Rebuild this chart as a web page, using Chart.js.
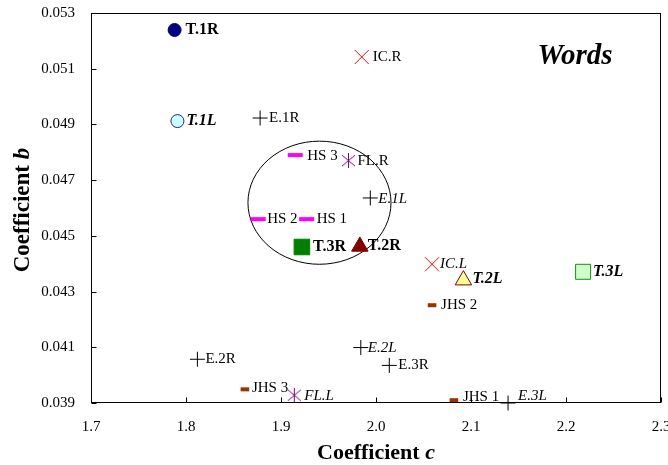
<!DOCTYPE html>
<html lang="en">
<head>
<meta charset="UTF-8">
<title>Coefficient b vs coefficient c</title>
<script src="https://cdn.jsdelivr.net/npm/chart.js"></script>
<style>
    html, body { margin: 0; padding: 0; background: #ffffff; }
    #wrap { width: 668px; height: 465px; position: relative; }
</style>
</head>
<body>
<div id="wrap"><canvas id="chart"></canvas></div>
<script>
    // T group (big filled markers)
    const tNames = ['T.1R', 'T.1L', 'T.2R', 'T.2L', 'T.3R', 'T.3L'];
    const tC = [1.788, 1.791, 1.983, 2.092, 1.922, 2.218];
    const tB = [0.05239, 0.04912, 0.04462, 0.04341, 0.04460, 0.04371];

    // E group (plus)
    const eNames = ['E.1R', 'E.1L', 'E.2R', 'E.2L', 'E.3R', 'E.3L'];
    const eC = [1.878, 1.994, 1.812, 1.984, 2.014, 2.139];
    const eB = [0.04923, 0.04636, 0.04057, 0.04099, 0.04035, 0.03900];

    // IC group (x)
    const icNames = ['IC.R', 'IC.L'];
    const icC = [1.985, 2.059];
    const icB = [0.05142, 0.04398];

    // FL group (asterisk)
    const flNames = ['FL.R', 'FL.L'];
    const flC = [1.971, 1.914];
    const flB = [0.04770, 0.03928];

    // HS group (dash)
    const hsNames = ['HS 1', 'HS 2', 'HS 3'];
    const hsC = [1.927, 1.876, 1.915];
    const hsB = [0.04560, 0.04560, 0.04790];

    // JHS group (small dash)
    const jhsNames = ['JHS 1', 'JHS 2', 'JHS 3'];
    const jhsC = [2.082, 2.059, 1.862];
    const jhsB = [0.03910, 0.04251, 0.03949];

    // ellipse round the HS cluster: centre (c, b) and half widths (c, b)
    const ringCenter = [1.9405, 0.04619];
    const ringHalf = [0.0753, 0.00221];

    const xMin = 1.7, xMax = 2.3, xStep = 0.1;
    const yMin = 0.039, yMax = 0.053, yStep = 0.002;

    const SERIF = "'Liberation Serif', 'Times New Roman', serif";

    function toPoints(cs, bs) {
        return cs.map((c, i) => ({ x: c, y: bs[i] }));
    }

    // asterisk marker like the spreadsheet one (vertical bar + x)
    function asterisk(color) {
        const cv = document.createElement('canvas');
        cv.width = 15; cv.height = 15;
        const c = cv.getContext('2d');
        c.strokeStyle = color;
        c.lineWidth = 1;
        c.beginPath();
        c.moveTo(7.5, 0); c.lineTo(7.5, 15);
        c.moveTo(1, 2); c.lineTo(14, 13);
        c.moveTo(14, 2); c.lineTo(1, 13);
        c.stroke();
        return cv;
    }
    const star = asterisk('#800080');

    const datasets = [
        {
            names: tNames,
            data: toPoints(tC, tB),
            pointStyle: ['circle', 'circle', 'triangle', 'triangle', 'rect', 'rect'],
            pointRadius: [6.5, 6.5, 9.5, 9.5, 11, 10.6],
            backgroundColor: ['#000080', '#ccffff', '#800000', '#ffff99', '#008000', '#ccffcc'],
            borderColor: ['#000080', '#2020a0', '#800000', '#800000', '#008000', '#109010'],
            borderWidth: 1,
            labelDx: [11, 9, 8, 9, 11, 10],
            labelDy: [0, 0, -1, -1, 0, 0]
        },
        {
            names: eNames,
            data: toPoints(eC, eB),
            pointStyle: 'cross',
            pointRadius: 7.5,
            borderColor: '#000000',
            borderWidth: 1,
            labelDx: [9, 8, 8, 7, 9, 10],
            labelDy: [0, 1, 0, 0, 0, -7]
        },
        {
            names: icNames,
            data: toPoints(icC, icB),
            pointStyle: 'crossRot',
            pointRadius: 10,
            borderColor: '#ff0000',
            borderWidth: 1,
            labelDx: [11, 8],
            labelDy: [0, 0]
        },
        {
            names: flNames,
            data: toPoints(flC, flB),
            pointStyle: star,
            pointRadius: 7.5,
            borderColor: '#800080',
            labelDx: [9, 10],
            labelDy: [0, 1]
        },
        {
            names: hsNames,
            data: toPoints(hsC, hsB),
            pointStyle: 'line',
            pointRadius: 7.5,
            borderColor: '#ff00ff',
            borderWidth: 4,
            labelDx: [10, 9, 12],
            labelDy: [0, 0, 1]
        },
        {
            names: jhsNames,
            data: toPoints(jhsC, jhsB),
            pointStyle: 'line',
            pointRadius: 4.3,
            borderColor: '#993300',
            borderWidth: 4,
            labelDx: [9, 9, 7],
            labelDy: [-3, 0, -1]
        }
    ];
    datasets.forEach(d => { d.showLine = false; d.clip = false; });

    function labelFont(name) {
        const isT = name.startsWith('T.');
        const italic = name.endsWith('L') ? 'italic ' : '';
        return italic + (isT ? 'bold 16px ' : '15px ') + SERIF;
    }

    const ringPlugin = {
        id: 'ring',
        beforeDatasetsDraw(chart) {
            const { ctx, scales: { x, y } } = chart;
            const cx = x.getPixelForValue(ringCenter[0]);
            const cy = y.getPixelForValue(ringCenter[1]);
            const rx = x.getPixelForValue(ringCenter[0] + ringHalf[0]) - cx;
            const ry = cy - y.getPixelForValue(ringCenter[1] + ringHalf[1]);
            ctx.save();
            ctx.strokeStyle = '#000';
            ctx.lineWidth = 1;
            ctx.beginPath();
            ctx.ellipse(cx, cy, rx, ry, 0, 0, Math.PI * 2);
            ctx.stroke();
            ctx.restore();
        }
    };

    const framePlugin = {
        id: 'frame',
        afterDraw(chart) {
            const { ctx, chartArea: a, scales: { x, y } } = chart;
            ctx.save();
            ctx.strokeStyle = '#000';
            ctx.lineWidth = 1;
            const l = Math.round(a.left) + 0.5, r = Math.round(a.right) - 0.5;
            const t = Math.round(a.top) + 0.5, b = Math.round(a.bottom) - 0.5;
            ctx.strokeRect(l, t, r - l, b - t);
            // inward tick marks
            ctx.beginPath();
            x.ticks.forEach(tk => {
                const px = Math.round(x.getPixelForValue(tk.value)) + 0.5;
                ctx.moveTo(px, b); ctx.lineTo(px, b - 5);
            });
            y.ticks.forEach(tk => {
                const py = Math.round(y.getPixelForValue(tk.value)) + 0.5;
                ctx.moveTo(l, py); ctx.lineTo(l + 5, py);
            });
            ctx.stroke();
            ctx.restore();
        }
    };

    const labelPlugin = {
        id: 'pointNames',
        afterDatasetsDraw(chart) {
            const ctx = chart.ctx;
            ctx.save();
            ctx.fillStyle = '#000';
            ctx.textAlign = 'left';
            ctx.textBaseline = 'middle';
            chart.data.datasets.forEach((ds, di) => {
                chart.getDatasetMeta(di).data.forEach((pt, i) => {
                    const name = ds.names[i];
                    ctx.font = labelFont(name);
                    ctx.fillText(name, pt.x + ds.labelDx[i], pt.y + ds.labelDy[i]);
                });
            });
            ctx.restore();
        }
    };

    // axis titles with italic letter, and the "Words" caption
    function mixedText(ctx, parts, cx, cy) {
        let total = 0;
        parts.forEach(p => { ctx.font = p.font; total += ctx.measureText(p.text).width; });
        let xx = cx - total / 2;
        parts.forEach(p => {
            ctx.font = p.font;
            ctx.fillText(p.text, xx, cy);
            xx += ctx.measureText(p.text).width;
        });
    }

    const titlePlugin = {
        id: 'titles',
        afterDraw(chart) {
            const { ctx, chartArea: a } = chart;
            ctx.save();
            ctx.fillStyle = '#000';
            ctx.textAlign = 'left';
            ctx.textBaseline = 'middle';
            mixedText(ctx, [
                { text: 'Coefficient ', font: 'bold 22px ' + SERIF },
                { text: 'c', font: 'italic bold 22px ' + SERIF }
            ], (a.left + a.right) / 2, 453);
            ctx.translate(23, 210);
            ctx.rotate(-Math.PI / 2);
            mixedText(ctx, [
                { text: 'Coefficient ', font: 'bold 23px ' + SERIF },
                { text: 'b', font: 'italic bold 23px ' + SERIF }
            ], 0, 0);
            ctx.restore();

            ctx.save();
            ctx.fillStyle = '#000';
            ctx.textAlign = 'center';
            ctx.textBaseline = 'middle';
            ctx.font = 'italic bold 29px ' + SERIF;
            ctx.fillText('Words', 575, 57);
            ctx.restore();
        }
    };

    const tickFont = { family: SERIF, size: 15 };

    new Chart(document.getElementById('chart'), {
        type: 'scatter',
        data: { datasets: datasets },
        options: {
            responsive: true,
            maintainAspectRatio: false,
            animation: false,
            events: [],
            layout: { autoPadding: false, padding: { top: 13, right: 7, left: 0, bottom: 0 } },
            plugins: { legend: { display: false }, tooltip: { enabled: false } },
            scales: {
                x: {
                    type: 'linear',
                    min: xMin, max: xMax,
                    grid: { display: false, drawTicks: false },
                    border: { display: false },
                    ticks: { stepSize: xStep, color: '#000', font: tickFont, padding: 15,
                        callback: v => v.toFixed(1) },
                    afterFit(s) { s.height = 62; s.paddingLeft = 0; s.paddingRight = 0; }
                },
                y: {
                    type: 'linear',
                    min: yMin, max: yMax,
                    grid: { display: false, drawTicks: false },
                    border: { display: false },
                    ticks: { stepSize: yStep, color: '#000', font: tickFont, padding: 16,
                        callback: v => v.toFixed(3) },
                    afterFit(s) { s.width = 91; s.paddingTop = 0; s.paddingBottom = 0; }
                }
            }
        },
        plugins: [ringPlugin, labelPlugin, framePlugin, titlePlugin]
    });
</script>
</body>
</html>
